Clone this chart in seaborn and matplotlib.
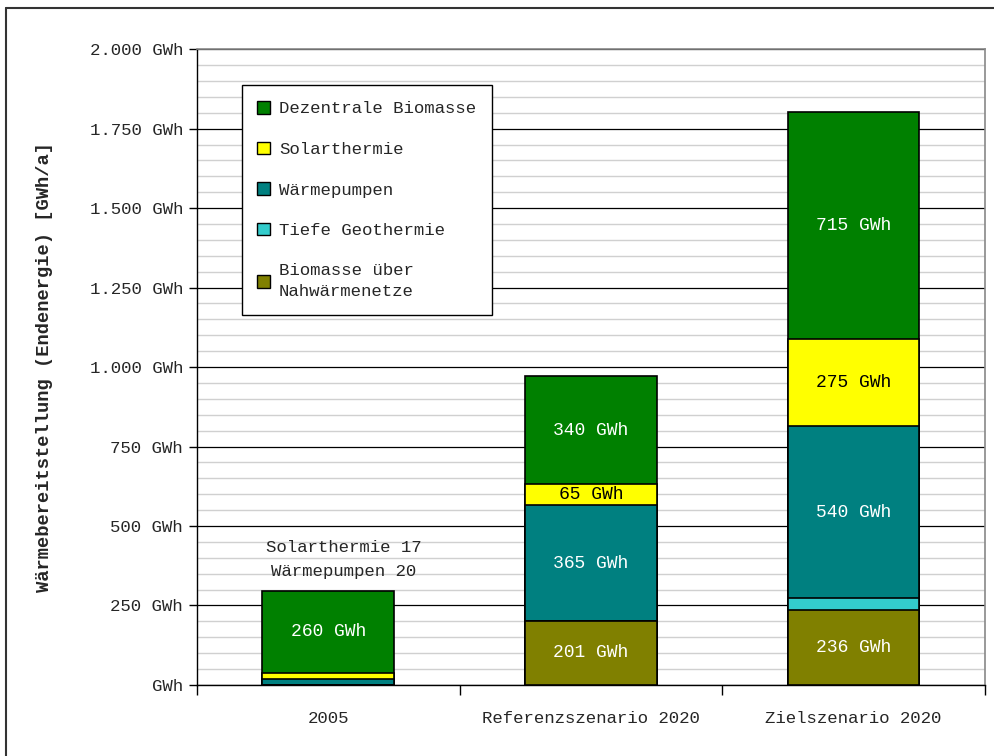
import matplotlib
matplotlib.use("Agg")
import matplotlib.pyplot as plt
import seaborn as sns
import numpy as np
import pandas as pd
from matplotlib.patches import Patch
from matplotlib.lines import Line2D
from matplotlib.ticker import MultipleLocator, FixedLocator, FuncFormatter

# data (GWh per year), bottom to top
categories = ["2005", "Referenzszenario 2020", "Zielszenario 2020"]
biomasse_nahwaerme = [0, 201, 236]
tiefe_geothermie = [0, 0, 37]
waermepumpen = [20, 365, 540]
solarthermie = [17, 65, 275]
dezentrale_biomasse = [260, 340, 715]

series_names = ["Biomasse über\nNahwärmenetze", "Tiefe Geothermie", "Wärmepumpen",
                "Solarthermie", "Dezentrale Biomasse"]
series_values = [biomasse_nahwaerme, tiefe_geothermie, waermepumpen,
                 solarthermie, dezentrale_biomasse]
series_colors = ["#808000", "#33CCCC", "#008080", "#FFFF00", "#008000"]
label_colors = ["white", "white", "white", "black", "white"]

sns.set_style("white")
plt.rcParams['font.family'] = ['Liberation Mono', 'DejaVu Sans']

fig, ax = plt.subplots(figsize=(9.94, 7.56), dpi=100)
fig.subplots_adjust(left=0.198, right=0.991, top=0.935, bottom=0.094)

# cumulative stacks, draw tallest first so lower segments sit on top
cum = np.cumsum(np.array(series_values), axis=0)
for i in reversed(range(len(series_names))):
    df = pd.DataFrame({"cat": categories, "val": cum[i]})
    sns.barplot(data=df, x="cat", y="val", color=series_colors[i], width=0.5,
                edgecolor="black", linewidth=1.2, saturation=1, ax=ax, zorder=3)

# value labels inside segments
for i, vals in enumerate(series_values):
    for j, v in enumerate(vals):
        if v < 50:
            continue
        mid = cum[i][j] - v / 2
        ax.text(j, mid, f"{v} GWh", ha="center", va="center",
                color=label_colors[i], fontsize=13, zorder=5)

# small 2005 values written above the bar
ax.text(0.06, cum[-1][0] + 98,
        f"Solarthermie {solarthermie[0]}\nWärmepumpen {waermepumpen[0]}",
        ha="center", va="center", fontsize=12.5, linespacing=1.75, zorder=5)

# axes formatting
ax.set_ylim(0, 2000)
ax.set_xlim(-0.5, 2.5)
ax.yaxis.set_major_locator(MultipleLocator(250))
ax.yaxis.set_minor_locator(MultipleLocator(50))
ax.yaxis.set_major_formatter(FuncFormatter(
    lambda v, p: "GWh" if v == 0 else f"{int(v):,} GWh".replace(",", ".")))
ax.grid(axis="y", which="minor", color="#d0d0d0", linewidth=1, zorder=0)
ax.grid(axis="y", which="major", color="black", linewidth=0.9, zorder=1)
ax.set_axisbelow(True)
ax.tick_params(axis="y", which="major", left=True, length=6, width=1,
               labelsize=12.5, pad=4, color="black")
ax.tick_params(axis="y", which="minor", left=False)
ax.xaxis.set_minor_locator(FixedLocator([-0.5, 0.5, 1.5, 2.5]))
ax.tick_params(axis="x", which="major", bottom=False, labelsize=12.5, pad=15)
ax.tick_params(axis="x", which="minor", bottom=True, length=7, width=1, color="black")
ax.set_xlabel("")
ax.set_ylabel("Wärmebereitstellung (Endenergie) [GWh/a]", fontsize=13.5,
              fontweight="bold", labelpad=26)

for side in ["left", "bottom"]:
    ax.spines[side].set_color("black")
    ax.spines[side].set_linewidth(1)
for side in ["top", "right"]:
    ax.spines[side].set_visible(True)
    ax.spines[side].set_color("#888888")
    ax.spines[side].set_linewidth(1.2)

# legend, top series first
handles = [Patch(facecolor=series_colors[i], edgecolor="black", linewidth=1)
           for i in reversed(range(len(series_names)))]
labels = list(reversed(series_names))
leg = ax.legend(handles, labels, loc="upper left", bbox_to_anchor=(0.057, 0.943),
                borderaxespad=0, fontsize=12.5, frameon=True, fancybox=False,
                edgecolor="black", handlelength=0.75, handleheight=0.75,
                handletextpad=0.5, labelspacing=1.45, borderpad=0.9, framealpha=1)
for t in leg.get_texts():
    t.set_linespacing(1.5)
leg.get_frame().set_linewidth(1)
leg.set_zorder(6)

# outer chart frame
fig.add_artist(Line2D([0.006, 0.006], [0, 0.989], color="#333333", linewidth=1.5,
                      transform=fig.transFigure))
fig.add_artist(Line2D([0.006, 1.0], [0.989, 0.989], color="#333333", linewidth=1.5,
                      transform=fig.transFigure))

fig.savefig("out.png", dpi=100)
